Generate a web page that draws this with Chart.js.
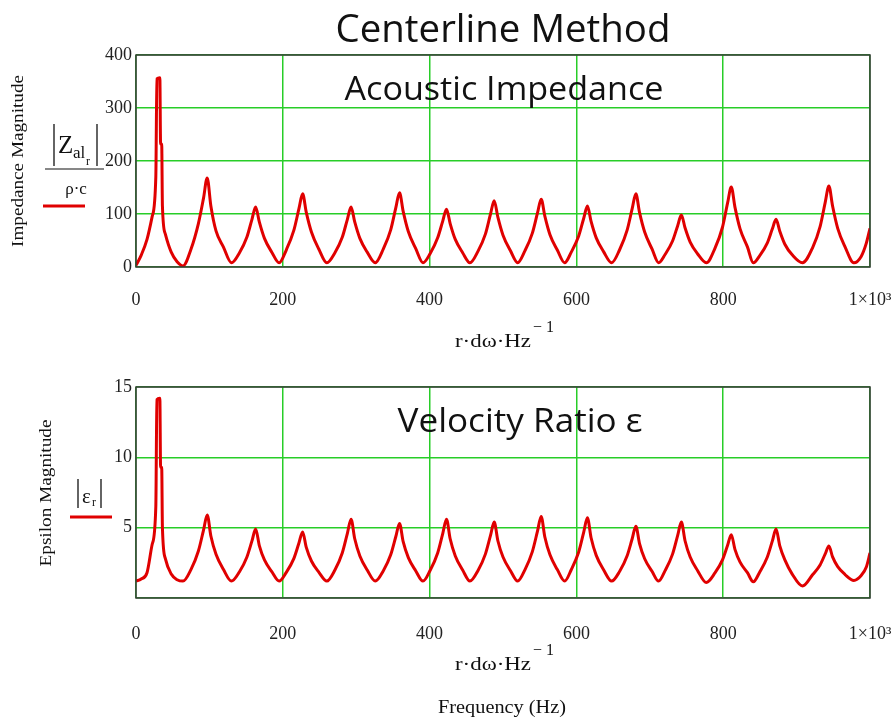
<!DOCTYPE html>
<html>
<head>
<meta charset="utf-8">
<title>Centerline Method</title>
<script src="https://cdn.jsdelivr.net/npm/chart.js"></script>
<style>
    html, body { margin: 0; padding: 0; background: #fff; }
    #wrap { position: relative; width: 896px; height: 721px; overflow: hidden; }
    canvas { position: absolute; left: 0; }
    #impedanceChart { top: 0; }
    #epsilonChart { top: 350px; }
</style>
</head>
<body>
<div id="wrap">
    <canvas id="impedanceChart" width="896" height="350"></canvas>
    <canvas id="epsilonChart" width="896" height="371"></canvas>
</div>
<script>
// frequency samples (Hz)
const frequency = [
    0, 7, 15, 22, 27, 28.5, 32.5, 33.5, 35, 36, 40, 48, 56, 64,
    75, 85, 92, 97, 102, 109, 119, 130,
    141, 151, 158, 163, 168, 175, 185, 195,
    205, 215, 222, 227, 232, 239, 249, 260,
    271, 281, 288, 293, 298, 305, 315, 326,
    337, 347, 354, 359, 364, 371, 381, 391,
    401, 411, 418, 423, 428, 435, 445, 455,
    466, 476, 483, 488, 493, 500, 510, 520,
    530, 540, 547, 552, 557, 564, 574, 584,
    593, 603, 610, 615, 620, 627, 637, 648,
    659, 669, 676, 681, 686, 693, 703, 712,
    721, 731, 738, 743, 748, 755, 765, 777,
    789, 799, 806, 811, 816, 823, 833, 841,
    850, 860, 867, 872, 877, 884, 894, 908,
    922, 932, 939, 944, 949, 956, 966, 978,
    988, 995, 1000
];

// |Zal_r| / (rho*c)
const impedance = [
    3, 22, 52, 95, 170, 355, 357, 232, 232, 115, 62, 28, 10, 2,
    34, 82, 130, 168, 115, 68, 38, 8,
    27, 56, 90, 113, 85, 54, 28, 8,
    33, 69, 110, 138, 103, 66, 34, 8,
    27, 56, 90, 113, 85, 54, 28, 8,
    34, 70, 112, 140, 105, 67, 35, 8,
    26, 55, 87, 109, 82, 52, 27, 8,
    30, 62, 100, 125, 94, 60, 31, 8,
    31, 64, 102, 128, 96, 61, 32, 8,
    28, 58, 92, 115, 86, 55, 29, 8,
    33, 69, 110, 138, 103, 66, 34, 8,
    24, 49, 78, 98, 74, 47, 25, 8,
    36, 75, 121, 151, 113, 72, 38, 8,
    22, 45, 72, 90, 68, 43, 23, 8,
    37, 76, 122, 153, 115, 73, 38, 8,
    20, 45, 73
];

// |eps_r|
const epsilon = [
    1.2, 1.35, 1.8, 3.8, 6.5, 14.1, 14.2, 9.3, 9.3, 5.0, 2.8, 1.7, 1.3, 1.2,
    2.04, 3.34, 4.83, 5.9, 4.41, 3.11, 2.04, 1.2,
    1.87, 2.9, 4.06, 4.9, 3.73, 2.71, 1.87, 1.2,
    1.84, 2.8, 3.91, 4.7, 3.6, 2.63, 1.84, 1.2,
    1.99, 3.2, 4.6, 5.6, 4.21, 2.99, 1.99, 1.2,
    1.94, 3.07, 4.37, 5.3, 4.0, 2.87, 1.94, 1.2,
    1.99, 3.2, 4.6, 5.6, 4.21, 2.99, 1.99, 1.2,
    1.96, 3.12, 4.45, 5.4, 4.07, 2.91, 1.96, 1.2,
    2.02, 3.3, 4.75, 5.8, 4.34, 3.07, 2.02, 1.2,
    2.01, 3.25, 4.68, 5.7, 4.28, 3.03, 2.01, 1.2,
    1.9, 2.98, 4.21, 5.1, 3.87, 2.79, 1.9, 1.2,
    1.96, 3.12, 4.45, 5.4, 4.07, 2.91, 1.96, 1.1,
    1.8, 2.71, 3.75, 4.5, 3.46, 2.55, 1.8, 1.15,
    1.87, 2.9, 4.06, 4.9, 3.73, 2.71, 1.7, 0.85,
    1.67, 2.35, 3.14, 3.7, 2.92, 2.23, 1.67, 1.25,
    1.6, 2.2, 3.2
];

const xTicks = [0, 200, 400, 600, 800, 1000];
const impedanceTicks = [0, 100, 200, 300, 400];
const epsilonTicks = [0, 5, 10, 15];

const RED = 'rgb(224, 0, 0)';
const GREEN = 'rgb(40, 205, 40)';
const SERIF = '"Liberation Serif", "Times New Roman", serif';
const SANS = '"Open Sans", "Noto Sans", sans-serif';

// draw a string squeezed / stretched to a given width
function drawFit(ctx, txt, x, y, w, font, rot, align) {
    ctx.save();
    ctx.font = font;
    const m = ctx.measureText(txt).width;
    ctx.translate(x, y);
    if (rot) ctx.rotate(rot);
    ctx.scale(w / m, 1);
    ctx.textAlign = align || 'center';
    ctx.textBaseline = 'alphabetic';
    ctx.fillStyle = '#111';
    ctx.fillText(txt, 0, 0);
    ctx.restore();
}

function drawText(ctx, txt, x, y, font, align) {
    ctx.save();
    ctx.font = font;
    ctx.textAlign = align || 'left';
    ctx.textBaseline = 'alphabetic';
    ctx.fillStyle = '#111';
    ctx.fillText(txt, x, y);
    ctx.restore();
}

function hLine(ctx, x1, x2, y, color, width) {
    ctx.save();
    ctx.strokeStyle = color;
    ctx.lineWidth = width;
    ctx.beginPath();
    ctx.moveTo(x1, y);
    ctx.lineTo(x2, y);
    ctx.stroke();
    ctx.restore();
}

function vLine(ctx, x, y1, y2, color, width) {
    ctx.save();
    ctx.strokeStyle = color;
    ctx.lineWidth = width;
    ctx.beginPath();
    ctx.moveTo(x, y1);
    ctx.lineTo(x, y2);
    ctx.stroke();
    ctx.restore();
}

// frame + x axis caption r·dω·Hz^-1 (positions relative to plot box)
function drawFrame(chart, captionGap) {
    const ctx = chart.ctx;
    const a = chart.chartArea;
    ctx.save();
    ctx.strokeStyle = '#3a3a3a';
    ctx.lineWidth = 1.5;
    ctx.strokeRect(a.left, a.top, a.right - a.left, a.bottom - a.top);
    ctx.restore();

    const cx = (a.left + a.right) / 2;
    drawFit(ctx, 'r·dω·Hz', cx + 28, a.bottom + captionGap, 76, '18px ' + SERIF, 0, 'right');
    drawText(ctx, '− 1', cx + 30, a.bottom + captionGap - 15, '16px ' + SERIF, 'left');
}

function buildConfig(values, yMax, yStep, xPad, xAxisHeight, topPad, hideZero, extraPlugin) {
    return {
        type: 'line',
        data: {
            datasets: [{
                data: frequency.map((f, i) => ({ x: f, y: values[i] })),
                borderColor: RED,
                borderWidth: 3,
                pointRadius: 0,
                cubicInterpolationMode: 'monotone',
                fill: false
            }]
        },
        options: {
            responsive: false,
            animation: false,
            devicePixelRatio: 1,
            layout: { padding: { left: 0, right: 26, top: topPad, bottom: 0 } },
            plugins: { legend: { display: false }, tooltip: { enabled: false } },
            scales: {
                x: {
                    type: 'linear',
                    min: xTicks[0],
                    max: xTicks[xTicks.length - 1],
                    afterBuildTicks: s => { s.ticks = xTicks.map(v => ({ value: v })); },
                    afterFit: s => {
                        s.height = xAxisHeight;
                        s.paddingLeft = 0;
                        s.paddingRight = 0;
                    },
                    grid: { color: GREEN, lineWidth: 1.5, drawTicks: false },
                    border: { display: false },
                    ticks: {
                        padding: xPad,
                        color: '#222',
                        font: { family: SERIF, size: 18 },
                        maxRotation: 0,
                        callback: v => (v === 1000 ? '1×10³' : String(v))
                    }
                },
                y: {
                    min: 0,
                    max: yMax,
                    afterFit: s => {
                        s.width = 136;
                        s.paddingTop = 0;
                        s.paddingBottom = 0;
                    },
                    grid: { color: GREEN, lineWidth: 1.5, drawTicks: false },
                    border: { display: false },
                    ticks: {
                        stepSize: yStep,
                        padding: 4,
                        color: '#222',
                        font: { family: SERIF, size: 18 },
                        callback: v => (hideZero && v === 0 ? '' : String(v))
                    }
                }
            }
        },
        plugins: [extraPlugin]
    };
}

// top chart: acoustic impedance
new Chart(document.getElementById('impedanceChart'), buildConfig(
    impedance, impedanceTicks[impedanceTicks.length - 1], 100, 22, 83, 55, false,
    {
        id: 'impedanceText',
        afterDraw(chart) {
            const ctx = chart.ctx;
            drawFrame(chart, 80);
            drawFit(ctx, 'Centerline Method', 503, 42, 335, '39px ' + SANS);
            drawFit(ctx, 'Acoustic Impedance', 504, 100, 319, '32px ' + SANS);
            drawFit(ctx, 'Impedance Magnitude', 23, 161, 172, '16px ' + SERIF, -Math.PI / 2);

            // legend formula |Zal_r| / rho.c
            vLine(ctx, 54, 124, 166, '#111', 1.3);
            vLine(ctx, 97, 124, 166, '#111', 1.3);
            drawText(ctx, 'Z', 58, 153, '25px ' + SERIF);
            drawText(ctx, 'al', 73, 158, '17px ' + SERIF);
            drawText(ctx, 'r', 86, 165, '12px ' + SERIF);
            hLine(ctx, 45, 104, 169, '#111', 1.2);
            drawText(ctx, 'ρ·c', 76, 194, '17px ' + SERIF, 'center');
            hLine(ctx, 43, 85, 206, RED, 3);
        }
    }
));

// bottom chart: velocity ratio
new Chart(document.getElementById('epsilonChart'), buildConfig(
    epsilon, epsilonTicks[epsilonTicks.length - 1], 5, 25, 123, 37, true,
    {
        id: 'epsilonText',
        afterDraw(chart) {
            const ctx = chart.ctx;
            drawFrame(chart, 72);
            drawFit(ctx, 'Velocity Ratio ε', 520, 82, 245, '32px ' + SANS);
            drawFit(ctx, 'Epsilon Magnitude', 51, 143, 147, '16px ' + SERIF, -Math.PI / 2);
            drawFit(ctx, 'Frequency (Hz)', 502, 363, 128, '18px ' + SERIF);

            // legend formula |eps_r|
            vLine(ctx, 78, 129, 158, '#111', 1.3);
            vLine(ctx, 101, 129, 158, '#111', 1.3);
            drawText(ctx, 'ε', 82, 153, '21px ' + SERIF);
            drawText(ctx, 'r', 92, 156, '12px ' + SERIF);
            hLine(ctx, 70, 112, 167, RED, 3);
        }
    }
));
</script>
</body>
</html>
